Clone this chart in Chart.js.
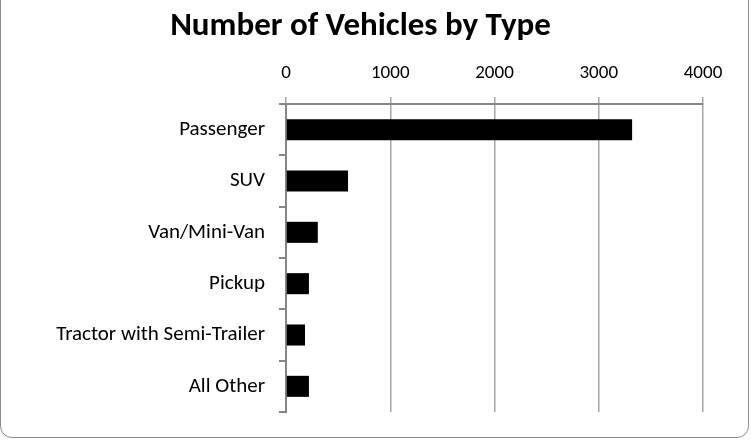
<!DOCTYPE html>
<html>
<head>
<meta charset="utf-8">
<script src="https://cdn.jsdelivr.net/npm/chart.js@4"></script>
<style>
  html, body { margin: 0; padding: 0; background: #fff; }
  #wrap {
    position: relative; width: 751px; height: 441px; box-sizing: border-box;
  }
  #frame {
    position: absolute; left: 0; top: -12px; width: 749px; height: 450px;
    border: 1px solid #8c8c8c; border-radius: 12px; box-sizing: border-box;
  }
  canvas { position: absolute; left: 0; top: 0; }
</style>
</head>
<body>
<div id="wrap">
  <div id="frame"></div>
  <canvas id="vehChart" width="751" height="441"></canvas>
</div>
<script>
// Vehicle counts by type
const categories = ['Passenger', 'SUV', 'Van/Mini-Van', 'Pickup', 'Tractor with Semi-Trailer', 'All Other'];
const vehicleCounts = [3320, 595, 305, 220, 182, 220];
const xTicks = [0, 1000, 2000, 3000, 4000];

const fontFamily = 'Carlito, Calibri, Lato, sans-serif';

const chart = new Chart(document.getElementById('vehChart').getContext('2d'), {
  type: 'bar',
  data: {
    labels: categories,
    datasets: [{
      label: 'Vehicles',
      data: vehicleCounts,
      backgroundColor: '#000000',
      borderWidth: 0,
      barPercentage: 0.41,
      categoryPercentage: 1.0
    }]
  },
  options: {
    indexAxis: 'y',
    responsive: false,
    animation: false,
    devicePixelRatio: 1,
    layout: { padding: { left: 18, right: 48, top: 0, bottom: 29 } },
    plugins: {
      legend: { display: false },
      tooltip: { enabled: false },
      title: {
        display: true,
        text: 'Number of Vehicles by Type',
        color: '#000',
        font: { family: fontFamily, size: 33, weight: 'bold', lineHeight: 1.2 },
        padding: { top: 7, bottom: 0 }
      }
    },
    scales: {
      x: {
        position: 'top',
        min: 0,
        max: 4000,
        afterBuildTicks: (scale) => { scale.ticks = xTicks.map(v => ({ value: v })); },
        afterFit: (scale) => { scale.height = 57.4; },
        ticks: {
          color: '#000',
          font: { family: fontFamily, size: 19 },
          padding: 12,
          maxRotation: 0,
          callback: (v) => String(v)
        },
        grid: { color: '#a6a6a6', lineWidth: 1.5, tickLength: 7, drawTicks: true },
        border: { color: '#868686', width: 2 }
      },
      y: {
        afterFit: (scale) => { scale.width = 268; },
        ticks: { color: '#000', font: { family: fontFamily, size: 21 }, padding: 14 },
        grid: { drawOnChartArea: false, color: '#868686', lineWidth: 2, tickLength: 7, offset: true },
        border: { color: '#868686', width: 2 }
      }
    }
  }
});
</script>
</body>
</html>
